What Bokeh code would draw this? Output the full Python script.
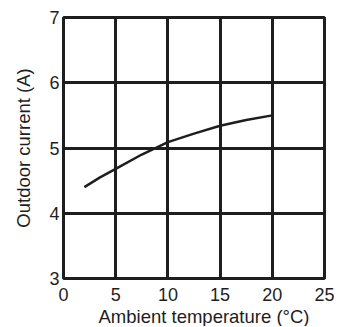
from bokeh.plotting import figure
from bokeh.models import Range1d, FixedTicker, Title
from bokeh.embed import file_html
from bokeh.resources import INLINE

# data
temps = [2, 3.5, 5, 7.5, 10, 12.5, 15, 17.5, 20]
current = [4.4, 4.55, 4.68, 4.9, 5.09, 5.22, 5.34, 5.43, 5.5]
x_ticks = [0, 5, 10, 15, 20, 25]
y_ticks = [3, 4, 5, 6, 7]
x_title = "Ambient temperature (°C)"
y_title = "Outdoor current (A)"

FONT = "Liberation Sans"
INK = "#1e1e1e"

p = figure(frame_width=261, frame_height=261, output_backend="svg", toolbar_location=None,
           x_range=Range1d(0, 25), y_range=Range1d(3, 7),
           min_border_left=63, min_border_right=14, min_border_top=17, min_border_bottom=48)
p.background_fill_color = "white"
p.border_fill_color = "white"
p.outline_line_color = INK
p.outline_line_width = 3

p.xaxis.ticker = FixedTicker(ticks=x_ticks)
p.yaxis.ticker = FixedTicker(ticks=y_ticks)
for ax in (p.xaxis[0], p.yaxis[0]):
    ax.axis_line_color = None
    ax.major_tick_line_color = None
    ax.minor_tick_line_color = None
    ax.major_tick_out = 0
    ax.major_tick_in = 0
    ax.major_label_text_font = FONT
    ax.major_label_text_font_size = "18px"
    ax.major_label_text_color = INK
    ax.axis_label_text_font = FONT
    ax.axis_label_text_font_size = "18.5px"
    ax.axis_label_text_font_style = "normal"
    ax.axis_label_text_color = INK
p.xaxis.major_label_standoff = 9
p.yaxis.major_label_standoff = 4
p.yaxis.axis_label = y_title
p.yaxis.axis_label_standoff = 12

for g in (p.xgrid[0], p.ygrid[0]):
    g.grid_line_color = INK
    g.grid_line_width = 3
    g.grid_line_alpha = 1

p.line(temps, current, line_color=INK, line_width=2.5)

p.add_layout(Title(text=x_title, align="left", offset=35, standoff=0,
                   text_font=FONT, text_font_size="18.5px", text_font_style="normal",
                   text_color=INK), "below")

open("out.html", "w").write(file_html(p, INLINE))
